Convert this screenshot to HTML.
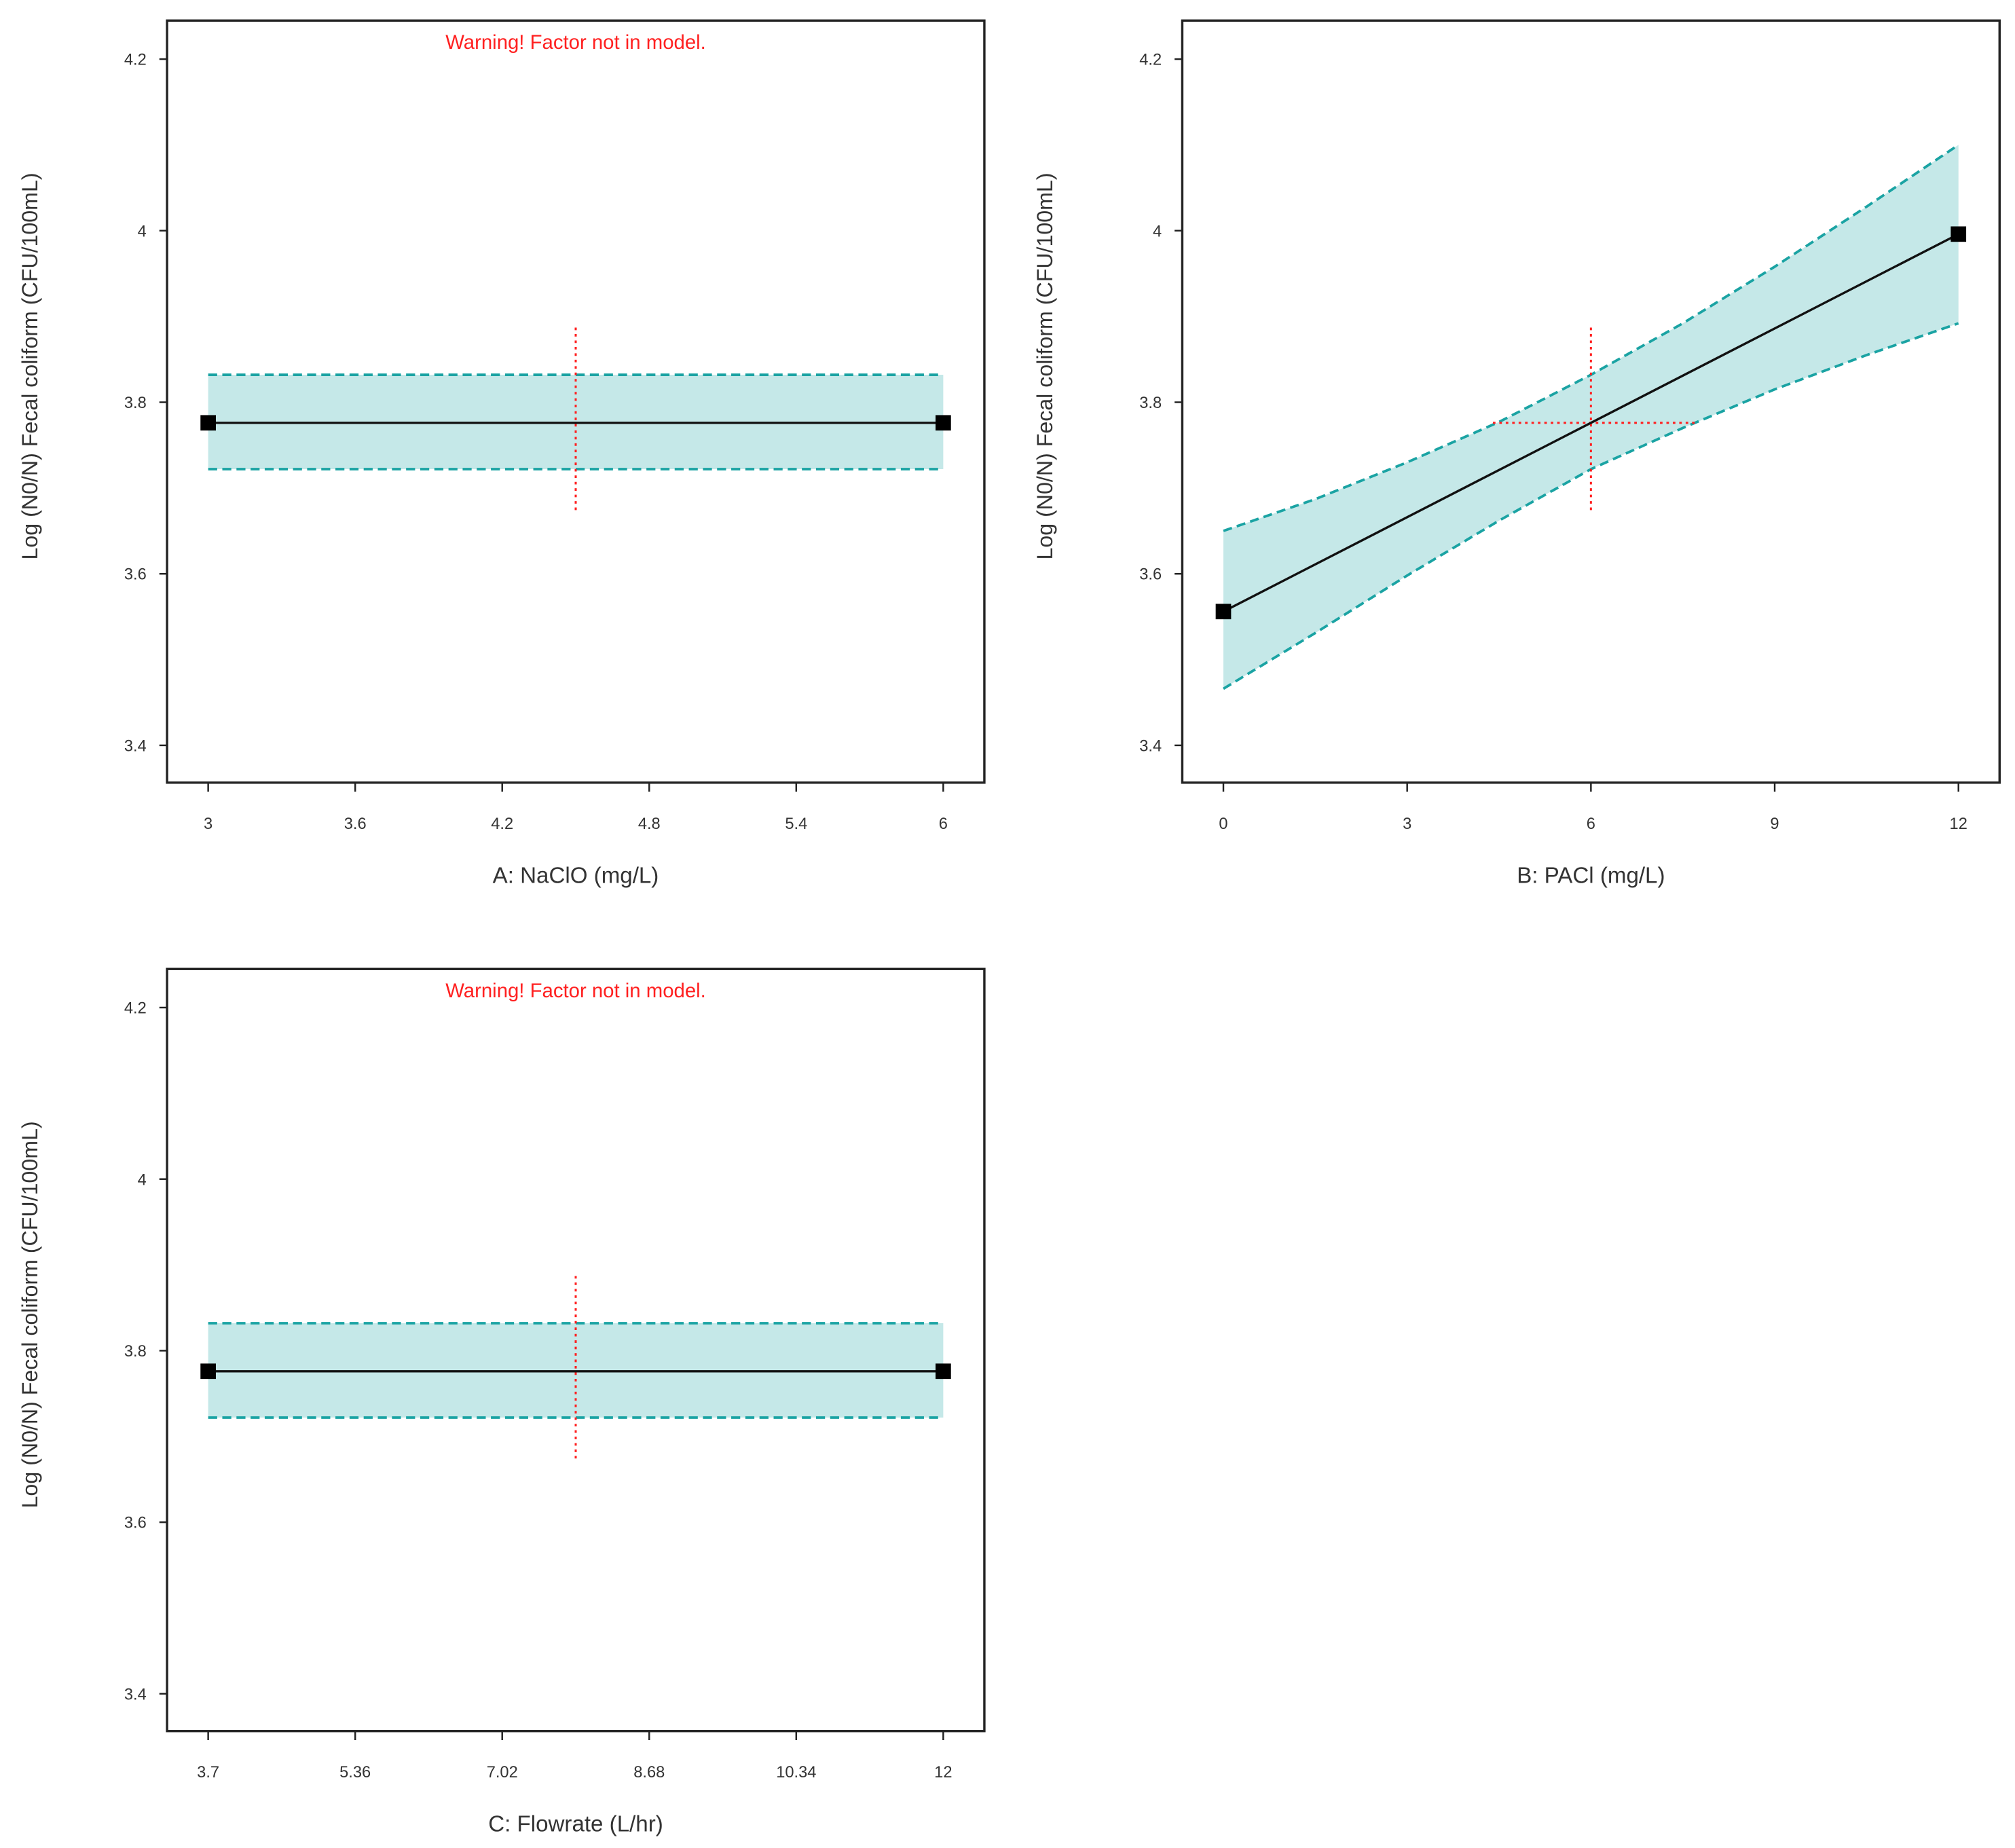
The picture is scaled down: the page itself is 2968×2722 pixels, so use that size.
<!DOCTYPE html>
<html><head><meta charset="utf-8"><style>
html,body{margin:0;padding:0;background:#fff;}
svg{display:block;font-family:"Liberation Sans",sans-serif;}
</style></head><body>
<svg id="chart" width="2968" height="2722" viewBox="0 0 1568 1438" preserveAspectRatio="none" xmlns="http://www.w3.org/2000/svg"></svg>
<script>
const yTicks = [3.4, 3.6, 3.8, 4, 4.2];
const xTicksA = [3, 3.6, 4.2, 4.8, 5.4, 6];
const xTicksB = [0, 3, 6, 9, 12];
const xTicksC = [3.7, 5.36, 7.02, 8.68, 10.34, 12];
const xA = [3, 6];
const meanA = [3.776, 3.776];
const upperA = [3.832, 3.832];
const lowerA = [3.722, 3.722];
const xB = [0, 1.5, 3, 4.5, 6, 7.5, 9, 10.5, 12];
const upperB = [3.650, 3.687, 3.730, 3.777, 3.832, 3.892, 3.958, 4.028, 4.100];
const lowerB = [3.466, 3.531, 3.598, 3.662, 3.722, 3.770, 3.815, 3.855, 3.892];
const endsB = [0, 12];
const meanB = [3.556, 3.996];
const xC = [3.7, 12];
const meanC = [3.776, 3.776];
const upperC = [3.832, 3.832];
const lowerC = [3.722, 3.722];

const NS = "http://www.w3.org/2000/svg";
const svg = document.getElementById('chart');
function mk(tag, attrs, parent, text){
  const e = document.createElementNS(NS, tag);
  for (const k in attrs) e.setAttribute(k, attrs[k]);
  if (text !== undefined) e.textContent = text;
  (parent || svg).appendChild(e);
  return e;
}
function panel(cfg){
  const g = mk('g', {});
  
  
  const L = cfg.left, R = cfg.left + 636, T = cfg.top, B = cfg.top + 593;
  const x0 = L + 32, x1 = R - 32;
  const sx = v => x0 + (v - cfg.xmin) / (cfg.xmax - cfg.xmin) * (x1 - x0);
  const sy = v => (T + 30) + (4.2 - v) / 0.8 * 534;
  const up = cfg.bx.map((v, i) => sx(v) + ',' + sy(cfg.up[i]));
  const lo = cfg.bx.map((v, i) => sx(v) + ',' + sy(cfg.lo[i])).reverse();
  const band = mk('polygon', {points: up.concat(lo).join(' '), fill: '#c5e8e8', stroke: 'none'}, g);
  
  
  const ul = mk('polyline', {points: up.join(' '), fill: 'none', stroke: '#1aa3a3', 'stroke-width': 2, 'stroke-dasharray': '7,4'}, g);
  
  
  const ll = mk('polyline', {points: lo.slice().reverse().join(' '), fill: 'none', stroke: '#1aa3a3', 'stroke-width': 2, 'stroke-dasharray': '7,4'}, g);
  
  
  const vl = mk('line', {x1: sx(cfg.cx), x2: sx(cfg.cx), y1: sy(3.887), y2: sy(3.672), stroke: '#ff2020', 'stroke-width': 1.6, 'stroke-dasharray': '2,3'}, g);
  
  
  if (cfg.hx){
    const hl = mk('line', {x1: sx(cfg.hx[0]), x2: sx(cfg.hx[1]), y1: sy(3.776), y2: sy(3.776), stroke: '#ff2020', 'stroke-width': 1.6, 'stroke-dasharray': '2,3'}, g);
    
    
  }
  const ml = mk('line', {x1: sx(cfg.mx[0]), x2: sx(cfg.mx[1]), y1: sy(cfg.my[0]), y2: sy(cfg.my[1]), stroke: '#111', 'stroke-width': 1.8}, g);
  
  
  cfg.mx.forEach((v, i) => {
    const r = mk('rect', {x: sx(v) - 6, y: sy(cfg.my[i]) - 6, width: 12, height: 12, fill: '#000'}, g);
    
    
  });
  const fr = mk('rect', {x: L, y: T, width: R - L, height: B - T, fill: 'none', stroke: '#222', 'stroke-width': 1.8}, g);
  
  
  yTicks.forEach(t => {
    mk('line', {x1: L - 6, x2: L, y1: sy(t), y2: sy(t), stroke: '#222', 'stroke-width': 1.3}, g);
    const tx = mk('text', {x: L - 16, y: sy(t) + 4.5, 'text-anchor': 'end', 'font-size': 12.5, fill: '#333'}, g, String(t));
    
    
  });
  cfg.xt.forEach(t => {
    mk('line', {x1: sx(t), x2: sx(t), y1: B, y2: B + 7, stroke: '#222', 'stroke-width': 1.3}, g);
    const tx = mk('text', {x: sx(t), y: B + 36, 'text-anchor': 'middle', 'font-size': 12.5, fill: '#333'}, g, String(t));
    
    
  });
  const xtitle = mk('text', {x: (L + R) / 2, y: B + 78, 'text-anchor': 'middle', 'font-size': 17.5, fill: '#333'}, g, cfg.xtitle);
  
  
  const yc = T + 269, yx = L - 101;
  const ytitle = mk('text', {x: yx, y: yc, 'text-anchor': 'middle', 'font-size': 17, fill: '#333', transform: 'rotate(-90 ' + yx + ' ' + yc + ')'}, g, 'Log (N0/N) Fecal coliform (CFU/100mL)');
  
  
  if (cfg.warn){
    const w = mk('text', {x: (L + R) / 2, y: T + 22, 'text-anchor': 'middle', 'font-size': 15.5, fill: '#ff2020'}, g, 'Warning! Factor not in model.');
    
    
  }
}
panel({name:'panel-a-naclo', left:130, top:16, xmin:3, xmax:6, xt:xTicksA, bx:xA, up:upperA, lo:lowerA, mx:xA, my:meanA, cx:4.5, xtitle:'A: NaClO (mg/L)', warn:true});
panel({name:'panel-b-pacl', left:920, top:16, xmin:0, xmax:12, xt:xTicksB, bx:xB, up:upperB, lo:lowerB, mx:endsB, my:meanB, cx:6, hx:[4.4, 7.7], xtitle:'B: PACl (mg/L)', warn:false});
panel({name:'panel-c-flowrate', left:130, top:754, xmin:3.7, xmax:12, xt:xTicksC, bx:xC, up:upperC, lo:lowerC, mx:xC, my:meanC, cx:7.85, xtitle:'C: Flowrate (L/hr)', warn:true});
</script>
</body></html>
